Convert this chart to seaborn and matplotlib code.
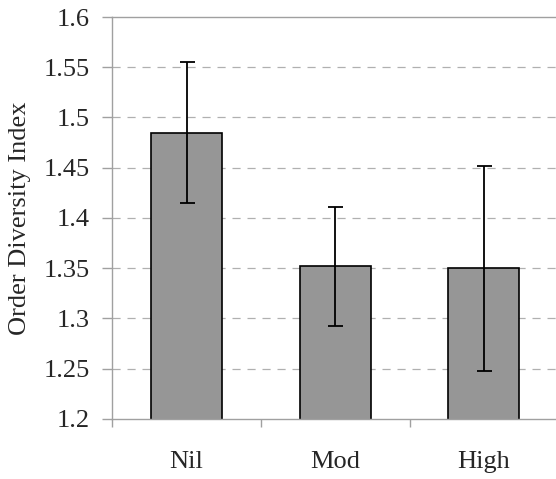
import matplotlib
matplotlib.use("Agg")
import matplotlib.pyplot as plt
import pandas as pd
import seaborn as sns
from matplotlib.ticker import FixedLocator

# 数据
categories = ["Nil", "Mod", "High"]
means = [1.485, 1.352, 1.350]
err_low = [1.415, 1.293, 1.248]
err_high = [1.555, 1.411, 1.452]
y_ticks = [1.2, 1.25, 1.3, 1.35, 1.4, 1.45, 1.5, 1.55, 1.6]

df = pd.DataFrame({"group": categories, "value": means})

sns.set_style("white")
plt.rcParams["font.family"] = ["Liberation Serif", "DejaVu Serif"]

fig = plt.figure(figsize=(5.56, 4.79), dpi=100)
ax = fig.add_axes([0.202, 0.1253, 0.802, 0.8392])

sns.barplot(data=df, x="group", y="value", color="#969696", width=0.477,
            edgecolor="black", linewidth=1.2, saturation=1, errorbar=None, ax=ax)

lower = [m - lo for m, lo in zip(means, err_low)]
upper = [hi - m for m, hi in zip(means, err_high)]
ax.errorbar(range(len(categories)), means, yerr=[lower, upper], fmt="none",
            ecolor="black", elinewidth=1.3, capsize=5.4, capthick=1.3, zorder=5)

ax.set_ylim(1.2, 1.6)
ax.set_xlim(-0.5, 2.5)
ax.set_yticks(y_ticks)
ax.set_yticklabels(["%g" % t for t in y_ticks])

# 网格线
for t in y_ticks[1:-1]:
    ax.axhline(t, color="#b0b0b0", linestyle=(0, (6.5, 5.5)), linewidth=0.9, zorder=0)

for side in ["left", "bottom", "top"]:
    ax.spines[side].set_color("#a0a0a0")
    ax.spines[side].set_linewidth(1.0)
ax.spines["right"].set_visible(False)

ax.tick_params(axis="y", direction="out", length=7, width=1.0, color="#a0a0a0",
               labelsize=19, pad=9, left=True)
ax.tick_params(axis="x", which="major", length=0, labelsize=19, pad=23)
ax.xaxis.set_minor_locator(FixedLocator([-0.5, 0.5, 1.5]))
ax.tick_params(axis="x", which="minor", direction="out", length=6, width=1.0,
               color="#a0a0a0", bottom=True)

ax.set_xlabel("")
ax.set_ylabel("Order Diversity Index", fontsize=19, labelpad=9)

fig.savefig("out.png", dpi=100)
